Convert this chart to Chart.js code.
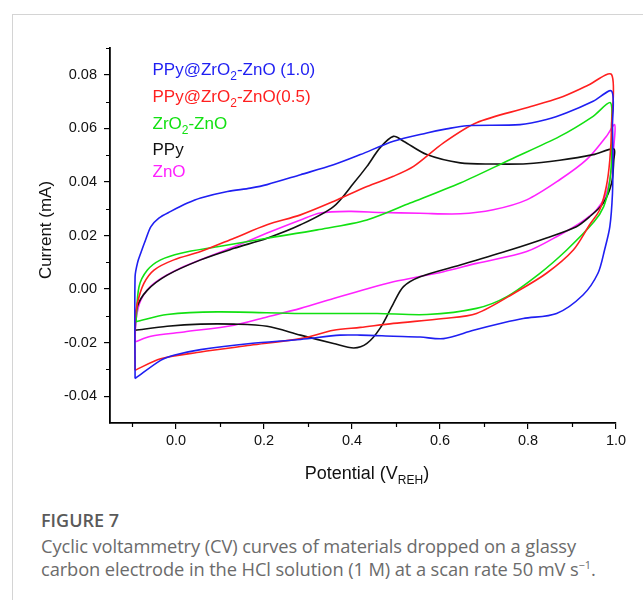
<!DOCTYPE html>
<html><head><meta charset="utf-8">
<script src="https://cdn.jsdelivr.net/npm/chart.js@4.4.0/dist/chart.umd.min.js"></script>
<style>
html,body{margin:0;padding:0;background:#fff;width:643px;height:600px;overflow:hidden;}
#card{position:absolute;left:12px;top:14px;width:640px;height:600px;border-left:1px solid #d4d4d4;border-top:1px solid #d4d4d4;}
#cv{position:absolute;left:0;top:0;}
#fig{position:absolute;left:41px;top:508px;font:600 18px/24px 'Open Sans',sans-serif;color:#5a5a5a;white-space:nowrap;}
#cap{position:absolute;left:41px;top:534px;width:600px;font:18.3px/23px 'Open Sans',sans-serif;color:#6b6b6b;white-space:nowrap;letter-spacing:-0.1px;}
#cap sup{font-size:11px;line-height:0;vertical-align:7px;}
</style></head><body>
<div id="card"></div>
<canvas id="cv" width="643" height="500"></canvas>
<div id="fig">FIGURE 7</div>
<div id="cap">Cyclic voltammetry (CV) curves of materials dropped on a glassy<br>carbon electrode in the HCl solution (1 M) at a scan rate 50 mV s<sup>−1</sup>.</div>
<script>
// ---- data ----
const seriesLabels = ['PPy@ZrO₂-ZnO (1.0)', 'PPy@ZrO₂-ZnO(0.5)', 'ZrO₂-ZnO', 'PPy', 'ZnO'];

const xMajor = [0.0, 0.2, 0.4, 0.6, 0.8, 1.0];
const xMinor = [-0.1, 0.1, 0.3, 0.5, 0.7, 0.9];
const yMajor = [-0.04, -0.02, 0.00, 0.02, 0.04, 0.06, 0.08];
const yMinor = [-0.03, -0.01, 0.01, 0.03, 0.05, 0.07, 0.09];

// PPy@ZrO2-ZnO (1.0)
const blueV = [-0.093,-0.093,-0.087,-0.080,-0.069,-0.057,-0.039,-0.012,0.026,0.056,0.117,0.169,0.207,0.283,0.358,0.419,0.494,0.570,0.615,0.661,0.782,0.842,0.888,0.948,0.990,
  0.992,0.993,0.992,0.986,0.974,0.959,0.925,0.865,0.789,0.744,0.676,0.608,0.555,0.494,0.419,0.373,0.283,0.169,0.056,-0.005,-0.035,-0.093];
const blueI = [-0.0334,0.0046,0.0101,0.0135,0.0184,0.0233,0.0265,0.0290,0.0321,0.0340,0.0364,0.0377,0.0390,0.0427,0.0464,0.0502,0.0552,0.0583,0.0598,0.0610,0.0614,0.0633,0.0658,0.0701,0.0739,
  0.0608,0.0483,0.0358,0.0233,0.0146,0.0059,-0.0022,-0.0091,-0.0110,-0.0126,-0.0154,-0.0185,-0.0179,-0.0176,-0.0172,-0.0172,-0.0188,-0.0203,-0.0226,-0.0247,-0.0266,-0.0334];

// PPy@ZrO2-ZnO (0.5)
const redV = [-0.093,-0.093,-0.088,-0.073,-0.050,-0.005,0.056,0.132,0.207,0.283,0.358,0.434,0.494,0.540,0.608,0.683,0.797,0.872,0.933,0.990,
  0.990,0.986,0.978,0.963,0.940,0.903,0.842,0.774,0.683,0.608,0.494,0.419,0.358,0.283,0.169,0.056,-0.035,-0.093];
const redI = [-0.0303,-0.0116,-0.0054,0.0021,0.0071,0.0109,0.0140,0.0190,0.0240,0.0277,0.0327,0.0383,0.0421,0.0458,0.0546,0.0621,0.0677,0.0714,0.0758,0.0801,
  0.0608,0.0483,0.0383,0.0296,0.0240,0.0146,0.0059,-0.0010,-0.0091,-0.0110,-0.0128,-0.0143,-0.0154,-0.0185,-0.0210,-0.0235,-0.0260,-0.0303];

// ZrO2-ZnO
const greenV = [-0.091,-0.084,-0.065,-0.035,0.011,0.094,0.207,0.321,0.434,0.532,0.646,0.759,0.872,0.948,0.987,
  0.990,0.990,0.984,0.972,0.950,0.888,0.827,0.751,0.683,0.570,0.457,0.283,0.094,-0.020,-0.091];
const greenI = [-0.0122,0.0009,0.0071,0.0109,0.0134,0.0158,0.0190,0.0221,0.0258,0.0321,0.0396,0.0483,0.0570,0.0645,0.0696,
  0.0608,0.0483,0.0383,0.0308,0.0251,0.0146,0.0059,-0.0029,-0.0072,-0.0095,-0.0091,-0.0091,-0.0085,-0.0095,-0.0122];

// PPy
const blackV = [-0.093,-0.088,-0.065,-0.020,0.056,0.132,0.207,0.283,0.358,0.404,0.434,0.464,0.494,0.517,0.570,0.646,0.721,0.797,0.872,0.948,0.995,
  0.995,0.990,0.971,0.940,0.910,0.842,0.759,0.646,0.555,0.517,0.494,0.464,0.434,0.404,0.358,0.283,0.207,0.132,0.056,-0.020,-0.093];
const blackI = [-0.0154,-0.0066,-0.0004,0.0052,0.0109,0.0152,0.0190,0.0240,0.0308,0.0396,0.0458,0.0528,0.0570,0.0552,0.0502,0.0471,0.0467,0.0468,0.0481,0.0502,0.0523,
  0.0483,0.0396,0.0321,0.0270,0.0233,0.0191,0.0146,0.0090,0.0046,0.0009,-0.0054,-0.0146,-0.0203,-0.0220,-0.0203,-0.0172,-0.0139,-0.0131,-0.0131,-0.0139,-0.0154];

// ZnO
const magV = [-0.093,-0.091,-0.080,-0.050,0.018,0.132,0.207,0.283,0.328,0.396,0.464,0.555,0.646,0.721,0.797,0.872,0.933,0.978,0.997,
  0.995,0.990,0.978,0.956,0.922,0.872,0.797,0.683,0.608,0.494,0.419,0.358,0.283,0.207,0.132,0.018,-0.057,-0.093];
const magI = [-0.0197,-0.0116,-0.0041,0.0021,0.0084,0.0158,0.0209,0.0258,0.0284,0.0290,0.0286,0.0283,0.0281,0.0296,0.0333,0.0408,0.0483,0.0570,0.0614,
  0.0533,0.0446,0.0358,0.0296,0.0251,0.0202,0.0140,0.0096,0.0065,0.0027,-0.0006,-0.0035,-0.0072,-0.0104,-0.0135,-0.0160,-0.0176,-0.0197];

// ---- styles ----
const colors = ['#1f1ff2', '#ff1f1f', '#12e012', '#111111', '#ff22ff'];
const legendBaselines = [75, 101.7, 129, 155, 177];

const toPts = (V, I) => V.map((v, i) => ({x: v, y: I[i]}));
const seriesData = [toPts(blueV, blueI), toPts(redV, redI), toPts(greenV, greenI), toPts(blackV, blackI), toPts(magV, magI)];

const FONT = '"Liberation Sans", Arial, sans-serif';
function drawRich(ctx, parts, x, y, size, color) {
  ctx.fillStyle = color;
  ctx.textBaseline = 'alphabetic';
  ctx.textAlign = 'left';
  let cx = x;
  for (const p of parts) {
    if (p.sub) {
      ctx.font = Math.round(size * 0.68) + 'px ' + FONT;
      ctx.fillText(p.t, cx, y + size * 0.3);
    } else {
      ctx.font = size + 'px ' + FONT;
      ctx.fillText(p.t, cx, y);
    }
    cx += ctx.measureText(p.t).width;
  }
  return cx - x;
}
function measureRich(ctx, parts, size) {
  let w = 0;
  for (const p of parts) {
    ctx.font = (p.sub ? Math.round(size * 0.68) : size) + 'px ' + FONT;
    w += ctx.measureText(p.t).width;
  }
  return w;
}
function splitSub(label) {
  const parts = [];
  label.split('₂').forEach((s, i, arr) => {
    if (s) parts.push({t: s});
    if (i < arr.length - 1) parts.push({t: '2', sub: true});
  });
  return parts;
}

const overlay = {
  id: 'overlay',
  afterDraw(chart) {
    const ctx = chart.ctx;
    const xs = chart.scales.x, ys = chart.scales.y;
    const area = chart.chartArea;
    ctx.save();
    // minor ticks
    ctx.strokeStyle = '#000';
    ctx.lineWidth = 1.2;
    ctx.beginPath();
    xMinor.forEach(v => {
      const px = Math.round(xs.getPixelForValue(v)) + 0.5;
      ctx.moveTo(px, area.bottom); ctx.lineTo(px, area.bottom + 4);
    });
    yMinor.forEach(v => {
      const py = Math.round(ys.getPixelForValue(v)) + 0.5;
      ctx.moveTo(area.left - 4, py); ctx.lineTo(area.left, py);
    });
    ctx.stroke();
    // legend
    seriesLabels.forEach((lab, i) => {
      drawRich(ctx, splitSub(lab), 152.5, legendBaselines[i], 17, colors[i]);
    });
    // x title
    const xt = [{t: 'Potential (V'}, {t: 'REH', sub: true}, {t: ')'}];
    const w = measureRich(ctx, xt, 18);
    drawRich(ctx, xt, 367 - w / 2, 479, 18, '#111');
    // y title
    ctx.translate(51, 230);
    ctx.rotate(-Math.PI / 2);
    ctx.font = '17px ' + FONT;
    ctx.fillStyle = '#111';
    ctx.textAlign = 'center';
    ctx.textBaseline = 'alphabetic';
    ctx.fillText('Current (mA)', 0, 0);
    ctx.restore();
  }
};

const tickFont = {family: FONT, size: 14.5};

new Chart(document.getElementById('cv').getContext('2d'), {
  type: 'scatter',
  data: {
    datasets: seriesLabels.map((lab, i) => ({
      label: lab,
      data: seriesData[i],
      showLine: true,
      borderColor: colors[i],
      backgroundColor: colors[i],
      borderWidth: 1.6,
      pointRadius: 0,
      tension: 0.3,
      fill: false
    }))
  },
  options: {
    responsive: false,
    animation: false,
    layout: {padding: {left: 0, right: 27, top: 48, bottom: 0}},
    plugins: {legend: {display: false}, tooltip: {enabled: false}},
    scales: {
      x: {
        type: 'linear', min: -0.15, max: 1.0,
        afterBuildTicks: s => { s.ticks = xMajor.map(v => ({value: v})); },
        afterFit: s => { s.height = 77; },
        grid: {display: true, drawOnChartArea: false, drawTicks: true, tickLength: 6, color: '#000', lineWidth: 1.2},
        border: {display: true, color: '#000', width: 1.8},
        ticks: {padding: 3, color: '#111', font: tickFont, maxRotation: 0, autoSkip: false, callback: v => v.toFixed(1)}
      },
      y: {
        type: 'linear', min: -0.05, max: 0.09,
        afterBuildTicks: s => { s.ticks = yMajor.map(v => ({value: v})); },
        afterFit: s => { s.width = 110; },
        grid: {display: true, drawOnChartArea: false, drawTicks: true, tickLength: 6, color: '#000', lineWidth: 1.2},
        border: {display: true, color: '#000', width: 1.8},
        ticks: {padding: 7, color: '#111', font: tickFont, autoSkip: false, callback: v => v.toFixed(2)}
      }
    }
  },
  plugins: [overlay]
});
</script>
</body></html>
